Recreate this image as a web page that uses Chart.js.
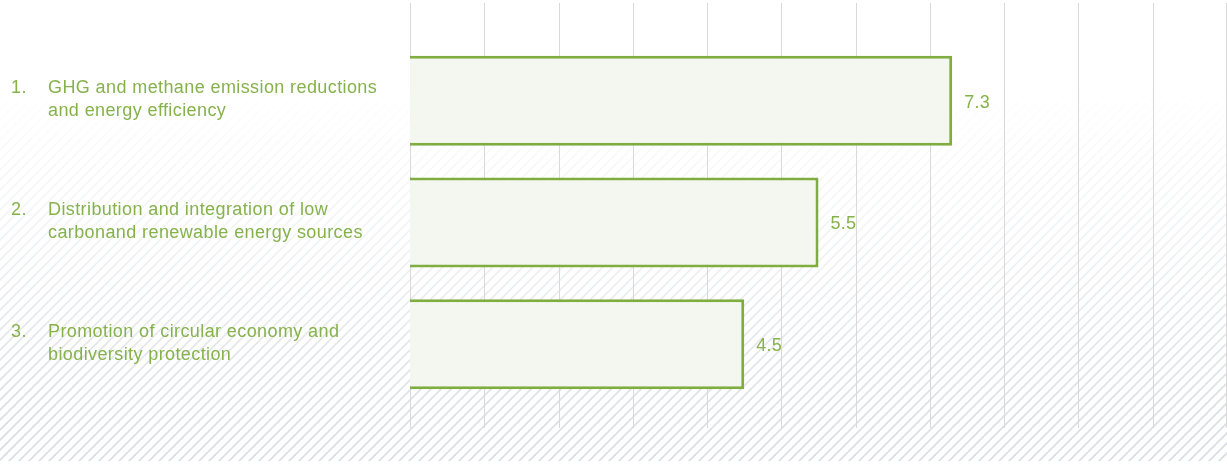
<!DOCTYPE html>
<html>
<head>
<meta charset="utf-8">
<script src="https://cdn.jsdelivr.net/npm/chart.js@4"></script>
<style>
  html, body { margin: 0; padding: 0; background: #fff; }
  #wrap { width: 1227px; height: 464px; position: relative; }
</style>
</head>
<body>
<div id="wrap"><canvas id="chart"></canvas></div>
<script>
// Chart data
var numbers = ['1.', '2.', '3.'];
var labelLines = [
    ['GHG and methane emission reductions', 'and energy efficiency'],
    ['Distribution and integration of low', 'carbonand renewable energy sources'],
    ['Promotion of circular economy and', 'biodiversity protection']
];
var scores = [7.3, 5.5, 4.5];
var axisMax = 11;

var green = '#86b24b';
var fontFamily = '"Liberation Sans", Arial, sans-serif';

/**
 * Hatched background that fades in towards the bottom
 */
var hatchPlugin = {
    id: 'hatch',
    beforeDraw: function(chart) {
        var w = chart.width, h = chart.height;
        var off = document.createElement('canvas');
        off.width = w;
        off.height = h;
        var o = off.getContext('2d');

        o.strokeStyle = '#d9dde1';
        o.lineWidth = 1.7;
        o.beginPath();
        for (var x = -h; x < w + h; x += 10) {
            o.moveTo(x, h);
            o.lineTo(x + h, 0);
        }
        o.stroke();

        // fade mask
        var grad = o.createLinearGradient(0, 0, 0, h);
        grad.addColorStop(0, 'rgba(0,0,0,0)');
        grad.addColorStop(0.18, 'rgba(0,0,0,0)');
        grad.addColorStop(0.5, 'rgba(0,0,0,0.35)');
        grad.addColorStop(0.85, 'rgba(0,0,0,0.9)');
        grad.addColorStop(1, 'rgba(0,0,0,1)');
        o.globalCompositeOperation = 'destination-in';
        o.fillStyle = grad;
        o.fillRect(0, 0, w, h - 3);

        chart.ctx.save();
        chart.ctx.drawImage(off, 0, 0);
        chart.ctx.restore();
    }
};

/**
 * Vertical gridlines, taller than the bar band
 */
var gridPlugin = {
    id: 'grid',
    beforeDatasetsDraw: function(chart) {
        var ctx = chart.ctx;
        var xscale = chart.scales.x;
        ctx.save();
        ctx.strokeStyle = '#d9d9d9';
        ctx.lineWidth = 1;
        for (var v = 0; v <= axisMax; v++) {
            var px = Math.round(xscale.getPixelForValue(v)) + 0.5;
            if (v === axisMax) px -= 1;
            ctx.beginPath();
            ctx.moveTo(px, 3);
            ctx.lineTo(px, 428);
            ctx.stroke();
        }
        ctx.restore();
    }
};

/**
 * Category labels on the left and value labels at bar ends
 */
var labelPlugin = {
    id: 'labels',
    afterDatasetsDraw: function(chart) {
        var ctx = chart.ctx;
        var yscale = chart.scales.y;
        var meta = chart.getDatasetMeta(0);
        ctx.save();
        ctx.fillStyle = green;
        ctx.textBaseline = 'middle';
        ctx.textAlign = 'left';

        ctx.font = '18px ' + fontFamily;
        ctx.letterSpacing = '0.4px';
        labelLines.forEach(function(lines, i) {
            var cy = yscale.getPixelForValue(i) - 1;
            var top = cy - (lines.length - 1) * 11.5;
            ctx.fillText(numbers[i], 11, top);
            lines.forEach(function(line, j) {
                ctx.fillText(line, 48, top + j * 23);
            });
        });

        ctx.font = '18px ' + fontFamily;
        ctx.letterSpacing = '0.3px';
        meta.data.forEach(function(bar, i) {
            ctx.fillText(scores[i].toFixed(1), bar.x + 12, bar.y + 2);
        });
        ctx.restore();
    }
};

var chart = new Chart(document.getElementById('chart'), {
    type: 'bar',
    data: {
        labels: numbers,
        datasets: [{
            data: scores,
            backgroundColor: '#f4f7ef',
            borderColor: '#7fad3f',
            borderWidth: 3,
            borderSkipped: 'start',
            categoryPercentage: 0.8,
            barPercentage: 0.925
        }]
    },
    options: {
        indexAxis: 'y',
        responsive: true,
        maintainAspectRatio: false,
        animation: false,
        layout: {
            padding: { left: 410, right: 0, top: 40, bottom: 59 }
        },
        plugins: {
            legend: { display: false },
            tooltip: { enabled: false }
        },
        scales: {
            x: {
                min: 0,
                max: axisMax,
                display: false
            },
            y: {
                display: false
            }
        }
    },
    plugins: [hatchPlugin, gridPlugin, labelPlugin]
});
</script>
</body>
</html>
